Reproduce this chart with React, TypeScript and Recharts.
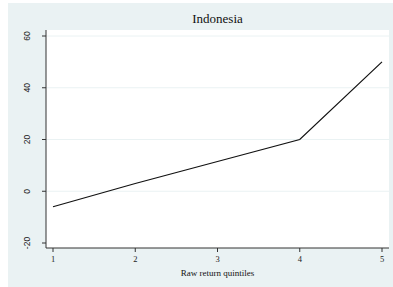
import { LineChart, Line, XAxis, YAxis, CartesianGrid } from 'recharts'

const quintiles = [1, 2, 3, 4, 5]
const returns = [-6, 3, 11.5, 20, 50]
const yTicks = [-20, 0, 20, 40, 60]
const gridValues = [0, 20, 40, 60]

const data = quintiles.map((q, i) => ({ q, value: returns[i] }))

const BG = '#eaf2f3'
const SERIF = '"Liberation Serif", "Times New Roman", serif'
const SANS = '"Liberation Sans", Arial, sans-serif'

function YTick({ x, y, payload }: { x?: number; y?: number; payload?: { value: number } }) {
  const cx = (x ?? 0) - 10
  const cy = y ?? 0
  return (
    <text
      x={cx}
      y={cy}
      transform={`rotate(-90, ${cx}, ${cy})`}
      textAnchor="middle"
      fontSize={8.5}
      fontFamily={SANS}
      fill="#222"
    >
      {payload?.value}
    </text>
  )
}

function XTick({ x, y, payload }: { x?: number; y?: number; payload?: { value: number } }) {
  return (
    <text
      x={x}
      y={(y ?? 0) + 8}
      textAnchor="middle"
      fontSize={8.5}
      fontFamily={SERIF}
      fill="#222"
    >
      {payload?.value}
    </text>
  )
}

export default function App() {
  return (
    <div style={{ position: 'absolute', left: 8, top: 3, width: 385, height: 284, background: BG }}>
      <div
        style={{
          position: 'absolute',
          top: 8,
          left: 38,
          width: 343,
          textAlign: 'center',
          fontFamily: SERIF,
          fontSize: 13,
          lineHeight: '16px',
          color: '#111',
        }}
      >
        Indonesia
      </div>
      <div
        style={{
          position: 'absolute',
          top: 265,
          left: 38,
          width: 343,
          textAlign: 'center',
          fontFamily: SERIF,
          fontSize: 9,
          lineHeight: '11px',
          color: '#111',
        }}
      >
        Raw return quintiles
      </div>
      <LineChart width={385} height={284} data={data} margin={{ top: 27, right: 4, left: 0, bottom: 0 }}>
        <CartesianGrid
          fill="#ffffff"
          vertical={false}
          horizontalValues={gridValues}
          stroke={BG}
          strokeWidth={1}
        />
        <XAxis
          dataKey="q"
          type="number"
          domain={[1, 5]}
          ticks={quintiles}
          padding={{ left: 7, right: 7 }}
          height={39}
          tickSize={4}
          stroke="#333"
          tickLine={{ stroke: '#333' }}
          tick={<XTick />}
        />
        <YAxis
          type="number"
          domain={[-20, 60]}
          ticks={yTicks}
          padding={{ top: 6, bottom: 5 }}
          width={38}
          tickSize={4}
          stroke="#333"
          tickLine={{ stroke: '#333' }}
          tick={<YTick />}
        />
        <Line
          dataKey="value"
          stroke="#111"
          strokeWidth={1.2}
          dot={false}
          isAnimationActive={false}
        />
      </LineChart>
    </div>
  )
}
